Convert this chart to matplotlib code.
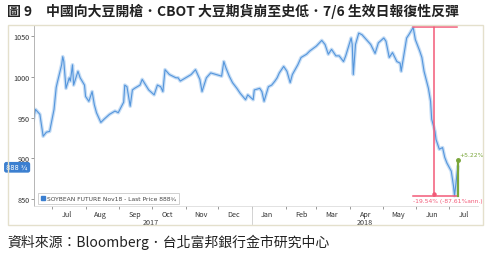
import pandas as pd
import matplotlib.pyplot as plt
import matplotlib.dates as mdates
from matplotlib.patches import Rectangle, Patch

# ---------------------------------------------------------------------
# Data (CBOT soybean Nov18, cents/bu)
# ---------------------------------------------------------------------

dates = [
    "2017-06-14", "2017-06-16", "2017-06-20", "2017-06-23", "2017-06-26", "2017-06-29",
    "2017-07-03", "2017-07-05", "2017-07-06", "2017-07-10", "2017-07-11", "2017-07-12",
    "2017-07-14", "2017-07-17", "2017-07-18", "2017-07-20", "2017-07-21", "2017-07-25",
    "2017-07-27", "2017-07-31", "2017-08-01", "2017-08-04", "2017-08-07", "2017-08-09",
    "2017-08-11", "2017-08-15", "2017-08-18", "2017-08-23", "2017-08-28", "2017-08-31",
    "2017-09-05", "2017-09-06", "2017-09-08", "2017-09-11", "2017-09-13", "2017-09-15",
    "2017-09-20", "2017-09-22", "2017-09-28", "2017-10-03", "2017-10-06", "2017-10-09",
    "2017-10-11", "2017-10-13", "2017-10-17", "2017-10-23", "2017-10-25", "2017-10-27",
    "2017-11-01", "2017-11-06", "2017-11-10", "2017-11-14", "2017-11-16", "2017-11-20",
    "2017-11-24", "2017-11-29", "2017-12-04", "2017-12-06", "2017-12-08", "2017-12-11",
    "2017-12-14", "2017-12-18", "2017-12-21", "2017-12-26", "2017-12-28", "2018-01-02",
    "2018-01-03", "2018-01-08", "2018-01-10", "2018-01-12", "2018-01-16", "2018-01-19",
    "2018-01-22", "2018-01-24", "2018-01-26", "2018-01-30", "2018-02-02", "2018-02-05",
    "2018-02-07", "2018-02-12", "2018-02-15", "2018-02-20", "2018-02-23", "2018-03-01",
    "2018-03-06", "2018-03-09", "2018-03-12", "2018-03-15", "2018-03-19", "2018-03-22",
    "2018-03-26", "2018-03-28", "2018-04-02", "2018-04-03", "2018-04-04", "2018-04-06",
    "2018-04-09", "2018-04-12", "2018-04-16", "2018-04-20", "2018-04-24", "2018-04-27",
    "2018-05-02", "2018-05-04", "2018-05-07", "2018-05-10", "2018-05-14", "2018-05-17",
    "2018-05-18", "2018-05-23", "2018-05-25", "2018-05-29", "2018-05-31", "2018-06-04",
    "2018-06-06", "2018-06-08", "2018-06-12", "2018-06-14", "2018-06-15", "2018-06-18",
    "2018-06-19", "2018-06-22", "2018-06-25", "2018-06-27", "2018-06-29", "2018-07-03",
    "2018-07-05", "2018-07-06", "2018-07-09",
]
prices = [
    947, 960, 954, 927, 932, 933,
    960, 987, 993, 1015, 1025, 1019,
    986, 999, 995, 1015, 990, 1007,
    999, 990, 976, 970, 982, 966,
    956, 944, 948, 954, 958, 956,
    969, 990, 988, 964, 984, 986,
    990, 997, 984, 978, 990, 988,
    982, 1009, 1003, 999, 999, 995,
    999, 1003, 1009, 997, 982, 999,
    1005, 1003, 1001, 1019, 1011, 1001,
    993, 986, 980, 972, 978, 972,
    984, 986, 982, 970, 988, 990,
    995, 999, 1005, 1013, 1007, 993,
    1003, 1015, 1024, 1028, 1032, 1038,
    1045, 1040, 1028, 1034, 1026, 1026,
    1019, 1026, 1048, 1040, 1003, 1040,
    1054, 1052, 1046, 1040, 1029, 1042,
    1048, 1044, 1024, 1030, 1019, 1017,
    1007, 1048, 1052, 1061, 1046, 1032,
    1024, 1007, 986, 970, 948, 933,
    923, 911, 913, 901, 894, 884,
    866, 853.75, 888.75,
]

last_price_label = "888 ¾"
drop_label = "-19.54% (-87.61%ann.)"
rebound_label = "+5.22%"
rebound_pct = 5.22

month_labels = ["Jul", "Aug", "Sep", "Oct", "Nov", "Dec",
                "Jan", "Feb", "Mar", "Apr", "May", "Jun", "Jul"]

title = "圖 9　中國向大豆開槍．CBOT 大豆期貨崩至史低．7/6 生效日報復性反彈"
source = "資料來源：Bloomberg．台北富邦銀行金市研究中心"

s = pd.Series(prices, index=pd.to_datetime(dates))

# ---------------------------------------------------------------------
# Figure
# ---------------------------------------------------------------------

plt.rcParams["font.family"] = ["Noto Sans CJK TC", "DejaVu Sans"]

fig = plt.figure(figsize=(4.97, 2.55), dpi=100)
ax = fig.add_axes([0.068, 0.188, 0.894, 0.71])

# outer chart frame
fig.patches.append(Rectangle((8 / 497, 1 - 226 / 255), 475 / 497, 200 / 255,
                             transform=fig.transFigure, fill=False,
                             edgecolor="#e4e0cc", lw=1))

ax.plot(s.index, s.values, color="#c6ddf5", lw=2.6, solid_joinstyle="round")
ax.plot(s.index, s.values, color="#5596dc", lw=0.8)

ax.set_yticks([850, 900, 950, 1000, 1050])
ax.tick_params(axis="y", labelsize=5.2, length=2, width=0.6,
               colors="#888888", labelcolor="#333333", pad=1)

# month boundaries get tick marks, labels sit mid-month
ax.xaxis.set_major_locator(mdates.MonthLocator())
ax.xaxis.set_major_formatter(plt.NullFormatter())
mids = pd.date_range("2017-07-01", periods=len(month_labels), freq="MS") + pd.Timedelta(days=14)
ax.set_xticks(mids, minor=True)
ax.set_xticklabels(month_labels, minor=True)
ax.tick_params(axis="x", which="major", length=2, width=0.6, colors="#888888")
ax.tick_params(axis="x", which="minor", length=0, labelsize=5.2,
               labelcolor="#333333", pad=3)

# limits after ticks (set_xticks can widen the view)
ax.set_xlim(pd.Timestamp("2017-06-14 10:00"), pd.Timestamp("2018-07-27 16:00"))
ax.set_ylim(841, 1064)

for side in ["top", "right"]:
    ax.spines[side].set_visible(False)
ax.spines["left"].set_color("#aaaaaa")
ax.spines["bottom"].set_color("#dddddd")
for sp in ax.spines.values():
    sp.set_linewidth(0.6)

# year labels and separator
ax.text(pd.Timestamp("2017-09-30"), -0.09, "2017", transform=ax.get_xaxis_transform(),
        ha="center", va="center", fontsize=5.2, color="#333333")
ax.text(pd.Timestamp("2018-04-15"), -0.09, "2018", transform=ax.get_xaxis_transform(),
        ha="center", va="center", fontsize=5.2, color="#333333")
ax.plot([pd.Timestamp("2018-01-01")] * 2, [-0.005, -0.1], transform=ax.get_xaxis_transform(),
        color="#cccccc", lw=0.6, clip_on=False)

# drop measurement (high to low)
hi_date, hi = s.idxmax(), s.max()
lo_date, lo = s.idxmin(), s.min()
end_date = lo_date + pd.Timedelta(days=2)
mid_date = hi_date + (lo_date - hi_date) / 2
red = "#f25a78"
ax.plot([hi_date, end_date], [hi, hi], color=red, lw=1.1)
ax.plot([hi_date, end_date], [lo, lo], color=red, lw=1.1)
ax.plot([mid_date, mid_date], [hi, lo], color=red, lw=1.1)
ax.plot([mid_date], [lo + 1.5], marker="o", ms=2.2, color=red)
ax.text(hi_date, lo - 3, drop_label, color=red, fontsize=4.3,
        ha="left", va="top", family="DejaVu Sans")

# rebound arrow
green = "#7aa63a"
reb_top = lo * (1 + rebound_pct / 100)
reb_date = s.index[-1]
ax.plot([reb_date, reb_date], [lo, reb_top], color=green, lw=1.6)
ax.plot([reb_date], [reb_top], marker="o", ms=2.5, color=green)
ax.text(reb_date + pd.Timedelta(days=1), reb_top + 3, rebound_label, color=green,
        fontsize=4.3, ha="left", va="bottom", family="DejaVu Sans")

# last price tag on y axis
ax.annotate(last_price_label, xy=(0, s.iloc[-1]), xycoords=ax.get_yaxis_transform(),
            xytext=(-12, 0), textcoords="offset points", ha="center", va="center",
            fontsize=4.8, color="white", family="DejaVu Sans",
            bbox=dict(boxstyle="round,pad=0.25", fc="#3b7fd0", ec="#3b7fd0"))

# legend
leg = ax.legend(handles=[Patch(color="#3b7fd0")],
                labels=["SOYBEAN FUTURE Nov18 - Last Price 888¾"],
                loc="lower left", bbox_to_anchor=(0.003, -0.005), fontsize=4.3,
                handlelength=0.6, handleheight=0.6, handletextpad=0.4,
                borderpad=0.5, frameon=True, fancybox=False)
leg.get_frame().set_edgecolor("#bbbbbb")
leg.get_frame().set_linewidth(0.6)
for t in leg.get_texts():
    t.set_color("#444444")
    t.set_family("DejaVu Sans")

fig.text(7 / 497, 1 - 11 / 255, title, fontsize=10, fontweight="bold",
         ha="left", va="center", color="#222222")
fig.text(7 / 497, 1 - 242 / 255, source, fontsize=10, ha="left", va="center",
         color="#222222")

fig.savefig("out.png", dpi=100)
